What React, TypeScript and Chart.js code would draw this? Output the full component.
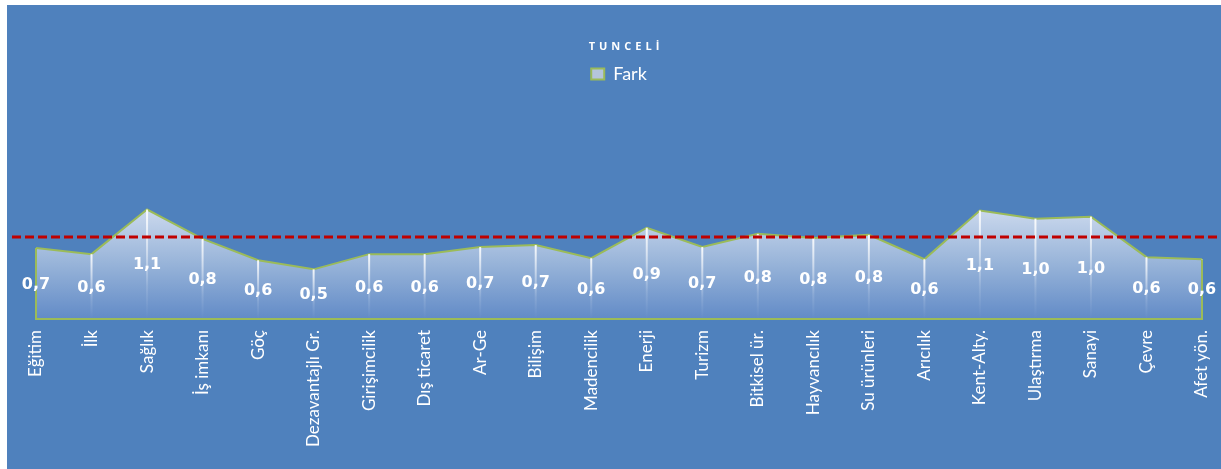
import React, { useEffect, useRef } from 'react';
import { Chart, registerables } from 'chart.js';

Chart.register(...registerables);

const TITLE = 'TUNCELİ';
const SERIES_NAME = 'Fark';

const categories = [
  'Eğitim', 'İlk', 'Sağlık', 'İş imkanı', 'Göç', 'Dezavantajlı Gr.', 'Girişimcilik',
  'Dış ticaret', 'Ar-Ge', 'Bilişim', 'Madencilik', 'Enerji', 'Turizm', 'Bitkisel ür.',
  'Hayvancılık', 'Su ürünleri', 'Arıcılık', 'Kent-Alty.', 'Ulaştırma', 'Sanayi', 'Çevre', 'Afet yön.',
];

const values = [
  0.70, 0.64, 1.08, 0.79, 0.58, 0.49, 0.64,
  0.64, 0.71, 0.73, 0.60, 0.90, 0.71, 0.84,
  0.80, 0.83, 0.59, 1.07, 0.99, 1.01, 0.61, 0.59,
];

const REFERENCE_VALUE = 0.81;
const Y_MAX = 2.23;

const fmt = (v: number) => v.toFixed(1).replace('.', ',');

export default function App() {
  const ref = useRef<HTMLCanvasElement>(null);

  useEffect(() => {
    const canvas = ref.current!;

    const overlay = {
      id: 'overlay',
      afterDatasetsDraw(chart: any) {
        const { ctx, chartArea, scales } = chart;
        const meta = chart.getDatasetMeta(0);
        const pts = meta.data;
        const base = scales.y.getPixelForValue(0);
        ctx.save();
        pts.forEach((p: any) => {
          const g = ctx.createLinearGradient(0, p.y, 0, base);
          g.addColorStop(0, 'rgba(255,255,255,0.9)');
          g.addColorStop(0.7, 'rgba(255,255,255,0.12)');
          g.addColorStop(1, 'rgba(255,255,255,0)');
          ctx.strokeStyle = g;
          ctx.lineWidth = 2;
          ctx.beginPath();
          ctx.moveTo(p.x, p.y);
          ctx.lineTo(p.x, base);
          ctx.stroke();
        });
        const first = pts[0];
        const last = pts[pts.length - 1];
        ctx.strokeStyle = '#9bbb59';
        ctx.lineWidth = 2;
        ctx.beginPath();
        ctx.moveTo(first.x, first.y);
        ctx.lineTo(first.x, base);
        ctx.lineTo(last.x, base);
        ctx.lineTo(last.x, last.y);
        ctx.stroke();
        ctx.fillStyle = '#ffffff';
        ctx.font = 'bold 16px "DejaVu Sans"';
        ctx.textAlign = 'center';
        ctx.textBaseline = 'middle';
        pts.forEach((p: any, i: number) => {
          ctx.fillText(fmt(values[i]), p.x, (p.y + base) / 2 + 1);
        });
        const ry = scales.y.getPixelForValue(REFERENCE_VALUE);
        ctx.strokeStyle = '#c00000';
        ctx.lineWidth = 3;
        ctx.setLineDash([9, 4]);
        ctx.beginPath();
        ctx.moveTo(chartArea.left - 24, ry);
        ctx.lineTo(chartArea.right + 15, ry);
        ctx.stroke();
        ctx.restore();
      },
      afterDraw(chart: any) {
        const { ctx, chartArea } = chart;
        ctx.save();
        ctx.fillStyle = '#ffffff';
        ctx.font = 'bold 11px "Open Sans"';
        (ctx as any).letterSpacing = '4px';
        ctx.textAlign = 'center';
        ctx.textBaseline = 'middle';
        ctx.fillText(TITLE, (chartArea.left + chartArea.right) / 2 + 7, 42);
        ctx.restore();
      },
    };

    const chart = new Chart(canvas, {
      type: 'line',
      data: {
        labels: categories,
        datasets: [
          {
            label: SERIES_NAME,
            data: values,
            fill: 'origin',
            borderColor: '#9bbb59',
            borderWidth: 2,
            pointRadius: 0,
            tension: 0,
            backgroundColor: (c: any) => {
              const { chart: ch } = c;
              const { chartArea, scales } = ch;
              if (!chartArea || !scales.y) return 'rgb(150,178,216)';
              const g = ch.ctx.createLinearGradient(0, scales.y.getPixelForValue(1.1), 0, scales.y.getPixelForValue(0));
              g.addColorStop(0, 'rgb(205,218,238)');
              g.addColorStop(0.5, 'rgb(152,180,217)');
              g.addColorStop(1, 'rgb(98,139,199)');
              return g;
            },
          },
        ],
      },
      options: {
        animation: false,
        responsive: false,
        layout: { padding: { top: 50, left: 29, right: 19, bottom: 0 } },
        plugins: {
          title: { display: false },
          tooltip: { enabled: false },
          legend: {
            display: true,
            position: 'top',
            labels: {
              color: '#ffffff',
              font: { family: 'Lato', size: 18 },
              boxWidth: 13,
              boxHeight: 11,
              padding: 10,
              generateLabels: () => [
                {
                  text: SERIES_NAME,
                  fillStyle: '#b5c5dc',
                  strokeStyle: '#9bbb59',
                  lineWidth: 2,
                  hidden: false,
                  datasetIndex: 0,
                  fontColor: '#ffffff',
                } as any,
              ],
            },
          },
        },
        scales: {
          x: {
            offset: false,
            grid: { display: false, drawTicks: false },
            border: { display: false },
            ticks: {
              color: '#ffffff',
              font: { family: 'Lato', size: 17 },
              minRotation: 90,
              maxRotation: 90,
              padding: 11,
              autoSkip: false,
            },
            afterFit: (axis: any) => {
              axis.height = 150;
              axis.paddingLeft = 0;
              axis.paddingRight = 0;
            },
          },
          y: {
            display: false,
            min: 0,
            max: Y_MAX,
          },
        },
      },
      plugins: [overlay],
    } as any);

    return () => chart.destroy();
  }, []);

  return (
    <div style={{ position: 'absolute', left: 7, top: 5, width: 1214, height: 464, background: '#4f81bd' }}>
      <canvas ref={ref} width={1214} height={464} style={{ display: 'block' }} />
    </div>
  );
}
